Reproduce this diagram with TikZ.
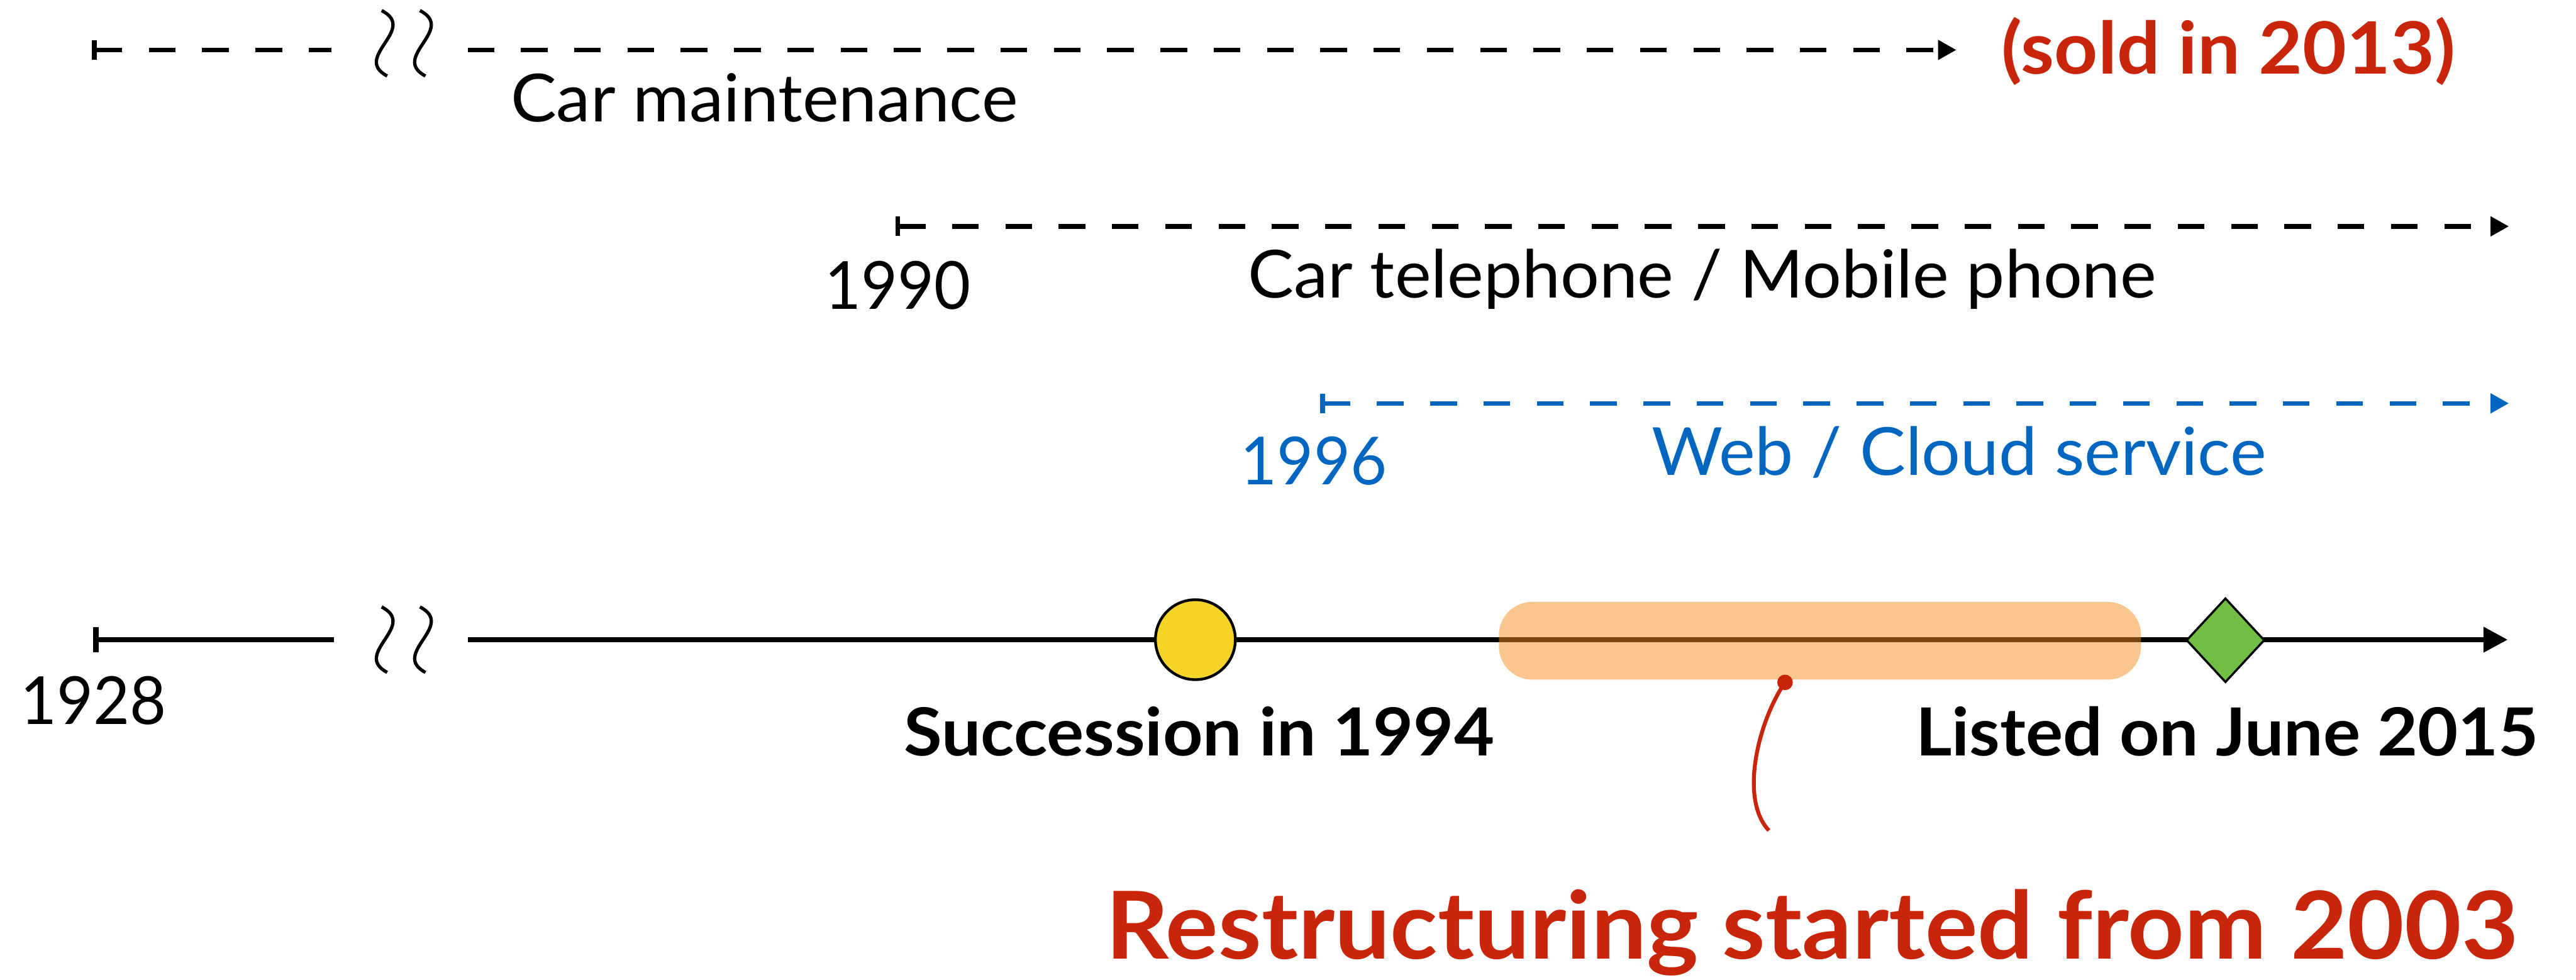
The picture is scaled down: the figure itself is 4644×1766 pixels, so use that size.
\documentclass[tikz,border=0pt]{standalone}
\usepackage{fontspec}
\setmainfont{Lato}[FakeStretch=1.035, BoldFeatures={FakeStretch=1.05}]
\newfontfamily\yearfont{Lato}[FakeStretch=0.95]
\usepackage{xcolor}
\usetikzlibrary{arrows.meta,shapes.geometric,positioning}
\definecolor{tlred}{HTML}{C8250A}
\definecolor{tlblue}{HTML}{0066C0}
\definecolor{tlyellow}{HTML}{F5D327}
\definecolor{tlgreen}{HTML}{70BF44}
\definecolor{tlorange}{HTML}{F38D1F}
\tikzset{
  tl dash/.style={line width=2.4pt, dash pattern=on 13.66pt off 13.66pt},
  tl solid/.style={line width=2.85pt},
  tl wave/.style={line width=1.7pt},
  tl text/.style={inner sep=0pt, anchor=base west, font=\fontsize{34}{40}\selectfont},
  tl year/.style={inner sep=0pt, anchor=base west, font=\fontsize{34}{40}\selectfont\yearfont},
  tl bold/.style={inner sep=0pt, anchor=base west, font=\fontsize{34}{40}\selectfont\bfseries}
}

\begin{document}
\begin{tikzpicture}[x=0.01cm, y=-0.01cm]
    \useasboundingbox (0,0) rectangle (4644,1766);

    % Span ends
    \coordinate (maint start) at (166,90);
    \coordinate (maint cut) at (598,90);
    \coordinate (maint resume) at (843,90);
    \coordinate (maint end) at (3527,90);
    \coordinate (phone start) at (1614,408);
    \coordinate (phone end) at (4523,408);
    \coordinate (web start) at (2380,727);
    \coordinate (web end) at (4523,727);
    \coordinate (main start) at (168,1153);
    \coordinate (main cut) at (602,1153);
    \coordinate (main resume) at (843,1153);
    \coordinate (main end) at (4521,1153);

    % Spans
    \draw [tl dash, {Bar[width=10pt]}-] (maint start) -- (maint cut);
    \draw [tl dash, -{Triangle[length=9.4pt,width=9.7pt]}] (maint resume) -- (maint end);
    \draw [tl dash, {Bar[width=10pt]}-{Triangle[length=9.4pt,width=9.7pt]}] (phone start) -- (phone end);
    \draw [tl dash, tlblue, {Bar[width=10pt]}-{Triangle[length=9.4pt,width=9.7pt]}] (web start) -- (web end);
    \draw [tl solid, {Bar[width=12.8pt]}-] (main start) -- (main cut);
    \draw [tl solid, -{Triangle[length=12.5pt,width=12.5pt]}] (main resume) -- (main end);

    % Breaks
    \foreach \wx in {694,763}
      \foreach \wy in {78,1153}
        \draw [tl wave] (\wx-6,\wy-59) .. controls (\wx+60,\wy-25) and (\wx-60,\wy+25) .. (\wx+4,\wy+59);

    % Milestones
    \node [circle, draw, line width=1.4pt, fill=tlyellow, minimum size=1.44cm, inner sep=0pt] (succession) at (2155,1153) {};
    \node [rectangle, rounded corners=17pt, fill=tlorange, fill opacity=0.5, minimum width=11.57cm, minimum height=1.4cm, inner sep=0pt] (restructuring) at (3281,1155) {};
    \node [diamond, draw, line width=1.1pt, fill=tlgreen, minimum width=1.41cm, minimum height=1.52cm, inner sep=0pt] (listing) at (4012,1154) {};

    % Pointer
    \node [circle, fill=tlred, minimum size=0.28cm, inner sep=0pt] (ptr dot) at (3218,1230) {};
    \coordinate (ptr end) at (3189,1497);
    \draw [tlred, line width=2pt] (ptr dot.center) .. controls (3170,1300) and (3135,1440) .. (ptr end);

    % Labels
    \node [tl text] (maint label) at (920,219) {Car maintenance};
    \node [tl bold, tlred, font=\fontsize{37}{44}\selectfont\bfseries] (sold label) at (3608,133) {(sold in 2013)};
    \node [tl year] (phone year) at (1486,557) {1990};
    \node [tl text] (phone label) at (2249,537) {Car telephone / Mobile phone};
    \node [tl year, tlblue] (web year) at (2236,874) {1996};
    \node [tl text, tlblue] (web label) at (2977,857) {Web / Cloud service};
    \node [tl year] (main year) at (36,1306) {1928};
    \node [tl bold] (succession label) at (1629,1362) {Succession in 1994};
    \node [tl bold] (listing label) at (3453,1362) {Listed on June 2015};
    \node [tl bold, tlred, font=\fontsize{48}{56}\selectfont\bfseries] (restructuring label) at (1993,1729) {Restructuring started from 2003};
\end{tikzpicture}
\end{document}
